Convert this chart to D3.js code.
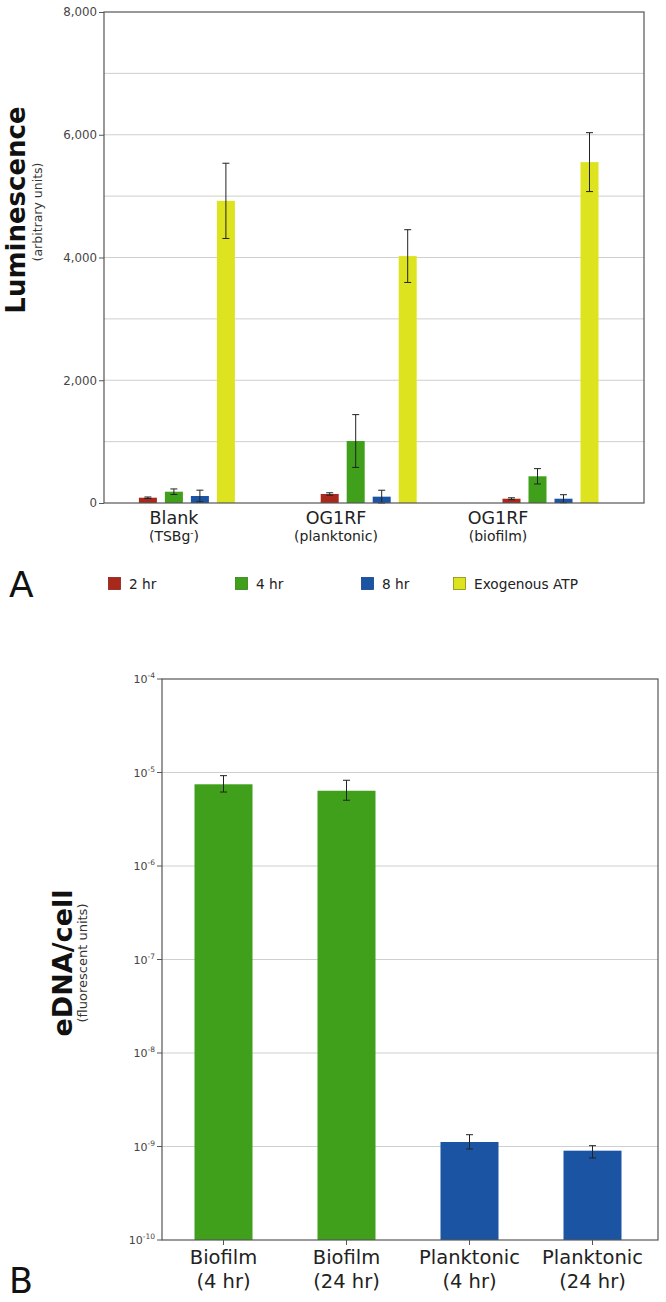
<!DOCTYPE html>
<html><head><meta charset="utf-8">
<script src="https://cdn.jsdelivr.net/npm/d3@7"></script>
<style>body{margin:0;background:#fff}svg{display:block;font-family:"DejaVu Sans",Verdana,sans-serif}</style>
</head><body>
<svg id="c" width="666" height="1302"></svg>
<script>
// ---------- Panel A data ----------
const catsA = ["Blank", "OG1RF", "OG1RF"];
const subA = ["(TSBg", "(planktonic)", "(biofilm)"];
const seriesA = ["2 hr", "4 hr", "8 hr", "Exogenous ATP"];
const val2hr = [86, 147, 70];
const val4hr = [184, 1010, 435];
const val8hr = [114, 103, 70];
const valATP = [4923, 4023, 5554];
const err2hr = [12, 20, 15];
const err4hr = [45, 430, 125];
const err8hr = [95, 105, 65];
const errATP = [613, 430, 480];
const ticksA = [0, 2000, 4000, 6000, 8000];
const gridA = [1000, 2000, 3000, 4000, 5000, 6000, 7000];
// ---------- Panel B data ----------
const catsB = ["Biofilm", "Biofilm", "Planktonic", "Planktonic"];
const subB = ["(4 hr)", "(24 hr)", "(4 hr)", "(24 hr)"];
const valB = [7.48e-6, 6.38e-6, 1.117e-9, 9.02e-10];
const errHiB = [9.25e-6, 8.26e-6, 1.337e-9, 1.02e-9];
const errLoB = [6.18e-6, 5.05e-6, 9.4e-10, 7.54e-10];
const ticksBExp = [-4, -5, -6, -7, -8, -9, -10];

const colorsA = ["#a8291b", "#41a01b", "#1b54a3", "#dde41f"];
const strokesA = ["#8a2014", "#338015", "#144385", "#8a8a10"];
const colorsB = ["#41a01b", "#41a01b", "#1b54a3", "#1b54a3"];

const svg = d3.select("#c");
const axisCol = "#555", gridCol = "#cfcfcf", tickTxt = "#444";

// ================= Panel A =================
const A = {l: 104, r: 644, t: 12, b: 503};
const yA = d3.scaleLinear().domain([0, 8000]).range([A.b, A.t]);
const idxA = d3.range(catsA.length);
const x0 = d3.scaleBand().domain(idxA).range([96, 96 + 181.8 * 3]);
const x1 = d3.scaleBand().domain(seriesA).range([-48, 48]).paddingInner(8 / 26).paddingOuter(0);
const xLab = d3.scaleBand().domain(idxA).range([93, 93 + 162 * 3]);

const gA = svg.append("g");
gA.selectAll("line.grid").data(gridA).join("line")
  .attr("x1", A.l).attr("x2", A.r).attr("y1", d => yA(d)).attr("y2", d => yA(d))
  .attr("stroke", gridCol).attr("stroke-width", 1);

const seriesVals = [val2hr, val4hr, val8hr, valATP];
const seriesErrs = [err2hr, err4hr, err8hr, errATP];
const barsA = [];
idxA.forEach(i => seriesA.forEach((s, j) => barsA.push({i, s, j, v: seriesVals[j][i], e: seriesErrs[j][i]})));

gA.selectAll("rect.bar").data(barsA).join("rect")
  .attr("x", d => x0(d.i) + x0.bandwidth() / 2 + x1(d.s))
  .attr("width", x1.bandwidth())
  .attr("y", d => yA(d.v)).attr("height", d => yA(0) - yA(d.v))
  .attr("fill", d => colorsA[d.j]);

const eg = gA.selectAll("g.err").data(barsA).join("g")
  .attr("transform", d => `translate(${x0(d.i) + x0.bandwidth() / 2 + x1(d.s) + x1.bandwidth() / 2},0)`);
eg.append("line").attr("y1", d => yA(d.v + d.e)).attr("y2", d => yA(Math.max(0, d.v - d.e))).attr("stroke", "#222");
eg.append("line").attr("x1", -3.5).attr("x2", 3.5).attr("y1", d => yA(d.v + d.e)).attr("y2", d => yA(d.v + d.e)).attr("stroke", "#222");
eg.append("line").attr("x1", -3.5).attr("x2", 3.5).attr("y1", d => yA(Math.max(0, d.v - d.e))).attr("y2", d => yA(Math.max(0, d.v - d.e))).attr("stroke", "#222");

// frame
gA.append("rect").attr("x", A.l).attr("y", A.t).attr("width", A.r - A.l).attr("height", A.b - A.t)
  .attr("fill", "none").attr("stroke", axisCol).attr("stroke-width", 1.2);

const axA = gA.append("g").attr("transform", `translate(${A.l},0)`)
  .call(d3.axisLeft(yA).tickValues(ticksA).tickSize(5).tickPadding(2).tickFormat(d3.format(",")));
axA.select(".domain").remove();
axA.selectAll("line").attr("stroke", axisCol);
axA.selectAll("text").attr("font-size", 11.8).attr("fill", tickTxt).attr("font-family", "DejaVu Sans");

// category labels
const labA = gA.selectAll("g.lab").data(idxA).join("g")
  .attr("transform", i => `translate(${xLab(i) + xLab.bandwidth() / 2},0)`);
labA.append("text").attr("y", 524).attr("text-anchor", "middle").attr("font-size", 17.5).attr("fill", "#222")
  .text(i => catsA[i]);
const sA = labA.append("text").attr("y", 541).attr("text-anchor", "middle").attr("font-size", 14).attr("fill", "#222");
sA.each(function (i) {
  const t = d3.select(this);
  if (i === 0) {
    t.append("tspan").text(subA[i]);
    t.append("tspan").attr("dy", -5).attr("font-size", 9).text("-");
    t.append("tspan").attr("dy", 5).text(")");
  } else t.text(subA[i]);
});

// y title
gA.append("text").attr("transform", "translate(25,210) rotate(-90)").attr("text-anchor", "middle")
  .attr("font-size", 26).attr("font-weight", "bold").attr("fill", "#111").text("Luminescence");
gA.append("text").attr("transform", "translate(42,212) rotate(-90)").attr("text-anchor", "middle")
  .attr("font-size", 12.5).attr("fill", "#333").text("(arbitrary units)");

// legend
const legX = [108, 235, 361, 453];
const lg = gA.selectAll("g.leg").data(seriesA).join("g")
  .attr("transform", (d, j) => `translate(${legX[j]},577)`);
lg.append("rect").attr("width", 12).attr("height", 12).attr("x", 0.5).attr("y", 0.5)
  .attr("fill", (d, j) => colorsA[j]).attr("stroke", (d, j) => strokesA[j]).attr("stroke-width", 0.8);
lg.append("text").attr("x", 21).attr("y", 11.5).attr("font-size", 13.7).attr("fill", "#222").text(d => d);

gA.append("text").attr("x", 9).attr("y", 597).attr("font-size", 36).attr("fill", "#111").text("A");

// ================= Panel B =================
const B = {l: 162, r: 658, t: 679, b: 1240};
const yB = d3.scaleLog().domain([1e-10, 1e-4]).range([B.b, B.t]);
const idxB = d3.range(catsB.length);
const xB = d3.scaleBand().domain(idxB).range([162, 654]).paddingInner(65 / 123).paddingOuter(65 / 246);
const gB = svg.append("g");

gB.selectAll("line.grid").data(ticksBExp.slice(1, -1)).join("line")
  .attr("x1", B.l).attr("x2", B.r).attr("y1", d => yB(Math.pow(10, d))).attr("y2", d => yB(Math.pow(10, d)))
  .attr("stroke", gridCol);

gB.selectAll("rect.bar").data(idxB).join("rect")
  .attr("x", i => xB(i)).attr("width", xB.bandwidth())
  .attr("y", i => yB(valB[i])).attr("height", i => yB(1e-10) - yB(valB[i]))
  .attr("fill", i => colorsB[i]);

const ebB = gB.selectAll("g.err").data(idxB).join("g")
  .attr("transform", i => `translate(${xB(i) + xB.bandwidth() / 2},0)`);
ebB.append("line").attr("y1", i => yB(errHiB[i])).attr("y2", i => yB(errLoB[i])).attr("stroke", "#222");
ebB.append("line").attr("x1", -3.5).attr("x2", 3.5).attr("y1", i => yB(errHiB[i])).attr("y2", i => yB(errHiB[i])).attr("stroke", "#222");
ebB.append("line").attr("x1", -3.5).attr("x2", 3.5).attr("y1", i => yB(errLoB[i])).attr("y2", i => yB(errLoB[i])).attr("stroke", "#222");

gB.append("rect").attr("x", B.l).attr("y", B.t).attr("width", B.r - B.l).attr("height", B.b - B.t)
  .attr("fill", "none").attr("stroke", axisCol).attr("stroke-width", 1.2);

// y ticks
const yt = gB.selectAll("g.yt").data(ticksBExp).join("g")
  .attr("transform", d => `translate(${B.l},${yB(Math.pow(10, d))})`);
yt.append("line").attr("x1", -5).attr("x2", 0).attr("stroke", axisCol);
const ytt = yt.append("text").attr("x", -7).attr("y", 4).attr("text-anchor", "end").attr("font-size", 11).attr("fill", tickTxt);
ytt.append("tspan").text("10");
ytt.append("tspan").attr("dy", -5).attr("font-size", 7.5).text(d => "-" + Math.abs(d));

// x ticks & labels
const xt = gB.selectAll("g.xt").data(idxB).join("g")
  .attr("transform", i => `translate(${xB(i) + xB.bandwidth() / 2},${B.b})`);
xt.append("line").attr("y1", 0).attr("y2", 5).attr("stroke", axisCol);
xt.append("text").attr("y", 24).attr("text-anchor", "middle").attr("font-size", 19.5).attr("fill", "#222").text(i => catsB[i]);
xt.append("text").attr("y", 48).attr("text-anchor", "middle").attr("font-size", 19.5).attr("fill", "#222").text(i => subB[i]);

gB.append("text").attr("transform", "translate(72,963) rotate(-90)").attr("text-anchor", "middle")
  .attr("font-size", 27).attr("font-weight", "bold").attr("fill", "#111").text("eDNA/cell");
gB.append("text").attr("transform", "translate(87,963) rotate(-90)").attr("text-anchor", "middle")
  .attr("font-size", 13).attr("fill", "#333").text("(fluorescent units)");

gB.append("text").attr("x", 9).attr("y", 1293).attr("font-size", 35).attr("fill", "#111").text("B");
</script>
</body></html>
